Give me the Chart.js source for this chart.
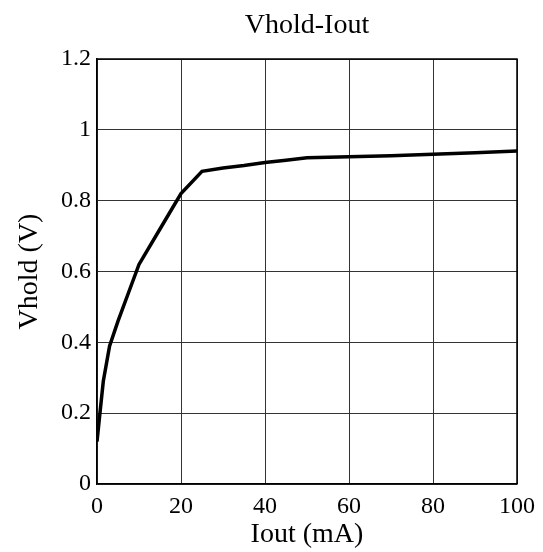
<!DOCTYPE html>
<html>
<head>
<meta charset="utf-8">
<script src="https://cdn.jsdelivr.net/npm/chart.js@4/dist/chart.umd.min.js"></script>
<style>
  html, body { margin: 0; padding: 0; background: #fff; }
  #wrap { width: 543px; height: 552px; }
</style>
</head>
<body>
<div id="wrap"><canvas id="chart" width="543" height="552"></canvas></div>
<script>
// Iout (mA) and Vhold (V)
const ioutValues = [0, 0.7, 1.5, 3, 5, 7.5, 10, 15, 20, 25, 30, 35, 40, 45, 50, 60, 70, 80, 90, 100];
const vholdValues = [0.12, 0.2, 0.29, 0.39, 0.46, 0.54, 0.62, 0.72, 0.82, 0.883, 0.892, 0.899, 0.908, 0.914, 0.921, 0.924, 0.927, 0.931, 0.935, 0.94];
const xTicks = [0, 20, 40, 60, 80, 100];
const yTicks = [0, 0.2, 0.4, 0.6, 0.8, 1, 1.2];
const chartTitle = 'Vhold-Iout';

const serif = "'Liberation Serif', 'Times New Roman', serif";

const points = ioutValues.map((x, i) => ({ x: x, y: vholdValues[i] }));

new Chart(document.getElementById("chart"), {
    type: 'line',
    data: {
        datasets: [{
            data: points,
            borderColor: '#000',
            borderWidth: 3.5,
            pointRadius: 0,
            tension: 0,
            fill: false
        }]
    },
    options: {
        responsive: false,
        animation: false,
        layout: { padding: { left: 0, right: 26, top: 59, bottom: 0 } },
        plugins: {
            legend: { display: false },
            tooltip: { enabled: false },
            title: { display: false }
        },
        scales: {
            x: {
                type: 'linear',
                min: 0,
                max: 100,
                afterBuildTicks: s => { s.ticks = xTicks.map(v => ({ value: v })); },
                afterFit: s => { s.height = 68; },
                ticks: {
                    color: '#000',
                    font: { family: serif, size: 24 },
                    padding: 8,
                    maxRotation: 0
                },
                grid: { color: '#333', lineWidth: 1, drawTicks: false },
                border: { color: '#000', width: 1.5 },
                title: {
                    display: true,
                    text: 'Iout (mA)',
                    color: '#000',
                    font: { family: serif, size: 28 },
                    padding: { top: 0, bottom: 1 }
                }
            },
            y: {
                type: 'linear',
                min: 0,
                max: 1.2,
                afterBuildTicks: s => { s.ticks = yTicks.map(v => ({ value: v })); },
                afterFit: s => { s.width = 97; },
                ticks: {
                    color: '#000',
                    font: { family: serif, size: 24 },
                    padding: 6,
                    callback: v => String(Math.round(v * 10) / 10)
                },
                grid: { color: '#333', lineWidth: 1, drawTicks: false },
                border: { color: '#000', width: 1.5 },
                title: {
                    display: true,
                    text: 'Vhold (V)',
                    color: '#000',
                    font: { family: serif, size: 28 },
                    padding: { top: 13, bottom: 0 }
                }
            }
        }
    },
    plugins: [{
        // top and right frame lines, plus the title centred over the plot area
        id: 'frame',
        afterDraw(chart) {
            const a = chart.chartArea, ctx = chart.ctx;
            ctx.save();
            ctx.strokeStyle = '#000';
            ctx.lineWidth = 1.5;
            ctx.beginPath();
            ctx.moveTo(a.left, a.top);
            ctx.lineTo(a.right, a.top);
            ctx.lineTo(a.right, a.bottom);
            ctx.stroke();

            ctx.fillStyle = '#000';
            ctx.font = "28px " + serif;
            ctx.textAlign = 'center';
            ctx.textBaseline = 'alphabetic';
            ctx.fillText(chartTitle, (a.left + a.right) / 2, 33);
            ctx.restore();
        }
    }]
});
</script>
</body>
</html>
